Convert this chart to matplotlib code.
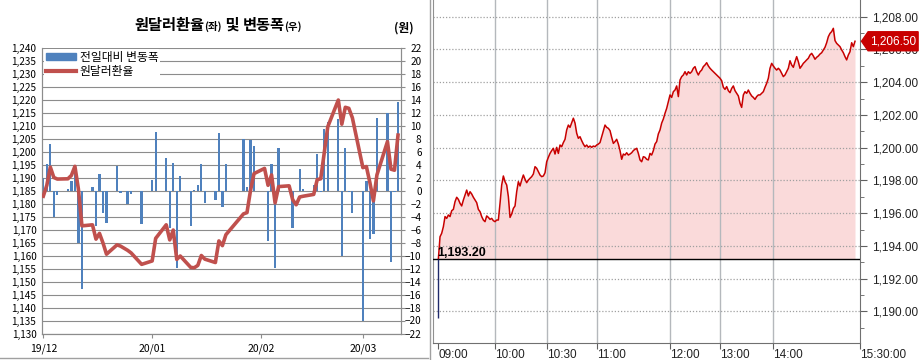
import numpy as np
import pandas as pd
import matplotlib
matplotlib.use("Agg")
import matplotlib.pyplot as plt
import matplotlib.dates as mdates
from matplotlib.patches import Patch, Polygon
from matplotlib.lines import Line2D
from matplotlib.transforms import blended_transform_factory

plt.rcParams['font.family'] = ['Noto Sans CJK KR', 'DejaVu Sans']
narrow = ['Liberation Sans', 'DejaVu Sans']

# ---- left chart: daily rate and change ----
dates = ["2019-12-02", "2019-12-03", "2019-12-04", "2019-12-05", "2019-12-06",
         "2019-12-09", "2019-12-10", "2019-12-11", "2019-12-12", "2019-12-13",
         "2019-12-16", "2019-12-17", "2019-12-18", "2019-12-19", "2019-12-20",
         "2019-12-23", "2019-12-24", "2019-12-26", "2019-12-27", "2019-12-30",
         "2020-01-02", "2020-01-03", "2020-01-06", "2020-01-07", "2020-01-08",
         "2020-01-09", "2020-01-10", "2020-01-13", "2020-01-14", "2020-01-15",
         "2020-01-16", "2020-01-17", "2020-01-20", "2020-01-21", "2020-01-22",
         "2020-01-23", "2020-01-28", "2020-01-29", "2020-01-30", "2020-01-31",
         "2020-02-03", "2020-02-04", "2020-02-05", "2020-02-06", "2020-02-07",
         "2020-02-10", "2020-02-11", "2020-02-12", "2020-02-13", "2020-02-14",
         "2020-02-17", "2020-02-18", "2020-02-19", "2020-02-20", "2020-02-21",
         "2020-02-24", "2020-02-25", "2020-02-26", "2020-02-27", "2020-02-28",
         "2020-03-02", "2020-03-03", "2020-03-04", "2020-03-05", "2020-03-06",
         "2020-03-09", "2020-03-10", "2020-03-11", "2020-03-12"]

change = [1.9, 4.1, 7.2, -4.1, -0.7, 0.2, 1.5, 3.0, -8.0, -15.2,
          0.6, -5.5, 2.5, -3.4, -5.0, 3.8, -0.4, -2.1, -0.5, -5.2,
          1.6, 9.0, 5.0, -5.8, 4.3, -11.9, 2.2, -5.4, 0.1, 0.8,
          4.1, -1.9, -1.4, 8.9, -2.5, 4.1, 8.0, 0.6, 7.8, 6.8,
          0.0, -7.8, 4.1, -11.9, 6.6, 0.0, -5.7, 0.0, 3.3, 0.2,
          0.8, 5.6, -0.2, 9.5, 10.6, 11.0, -10.1, 6.5, -0.3, -3.5,
          -20.0, 1.4, -7.5, -6.7, 11.1, 12.0, -11.0, -0.3, 13.6]

rate = [1182.8, 1187.0, 1194.0, 1190.0, 1189.4, 1189.5, 1190.8, 1194.3, 1185.5, 1171.4,
        1171.8, 1166.3, 1168.5, 1164.8, 1160.5, 1164.1, 1163.6, 1162.0, 1161.0, 1156.6,
        1157.9, 1166.6, 1171.8, 1166.0, 1169.8, 1158.5, 1159.8, 1155.4, 1155.3, 1156.2,
        1160.0, 1158.6, 1157.3, 1165.6, 1163.8, 1168.0, 1176.0, 1176.5, 1185.0, 1191.5,
        1193.5, 1187.0, 1191.0, 1180.2, 1186.5, 1186.8, 1181.5, 1179.5, 1182.5, 1182.8,
        1183.5, 1189.2, 1189.5, 1199.5, 1209.5, 1219.8, 1210.5, 1217.0, 1216.6, 1213.0,
        1193.8, 1194.2, 1188.0, 1181.0, 1191.0, 1203.8, 1193.2, 1192.8, 1206.3]

month_ticks = ["2019-12-02", "2020-01-02", "2020-02-02", "2020-03-02"]

# ---- right chart: intraday ticks (today) ----
prev_close = 1193.20
last_price = 1206.50
open_low = 1189.6
price = [1193.2, 1194.56, 1194.77, 1195.17, 1195.79, 1195.68, 1195.89, 1195.79, 1196.15, 1196.23,
         1196.70, 1196.97, 1196.84, 1196.60, 1196.44, 1196.80, 1197.11, 1197.41, 1197.05, 1197.31,
         1197.17, 1196.97, 1196.80, 1196.64, 1196.23, 1196.09, 1195.79, 1195.58, 1195.48, 1195.83,
         1195.74, 1195.62, 1195.68, 1195.54, 1195.48, 1195.58, 1195.58, 1196.60, 1197.72, 1198.27,
         1197.92, 1197.72, 1197.01, 1195.74, 1195.95, 1196.29, 1196.44, 1197.31, 1197.92, 1197.66,
         1198.02, 1198.33, 1198.07, 1197.86, 1198.02, 1198.13, 1198.23, 1198.39, 1198.84, 1198.74,
         1198.53, 1198.33, 1198.23, 1198.27, 1198.47, 1199.14, 1199.41, 1199.65, 1199.82, 1199.96,
         1199.61, 1200.02, 1199.65, 1200.16, 1200.06, 1200.31, 1200.51, 1201.08, 1201.38, 1201.24,
         1201.53, 1201.80, 1201.50, 1200.88, 1200.57, 1200.67, 1200.43, 1200.22, 1200.06, 1200.16,
         1200.02, 1200.10, 1200.02, 1200.10, 1200.06, 1200.16, 1200.22, 1200.31, 1200.67, 1201.04,
         1201.38, 1201.24, 1201.18, 1201.04, 1200.63, 1200.26, 1200.37, 1200.51, 1200.22, 1199.82,
         1199.29, 1199.61, 1199.55, 1199.69, 1199.55, 1199.61, 1199.69, 1199.82, 1199.90, 1199.96,
         1199.65, 1199.25, 1199.14, 1199.45, 1199.41, 1199.29, 1199.25, 1199.65, 1199.55, 1199.82,
         1200.22, 1200.37, 1200.84, 1201.08, 1201.50, 1201.75, 1202.10, 1202.40, 1202.81, 1203.22,
         1203.07, 1203.42, 1203.52, 1203.77, 1203.12, 1204.13, 1204.34, 1204.44, 1204.64, 1204.44,
         1204.64, 1204.54, 1204.64, 1204.85, 1204.95, 1204.64, 1204.44, 1204.64, 1204.74, 1204.95,
         1205.05, 1205.19, 1204.99, 1204.85, 1204.74, 1204.64, 1204.54, 1204.44, 1204.34, 1204.24,
         1204.09, 1203.69, 1203.56, 1203.73, 1203.48, 1203.36, 1203.62, 1203.77, 1203.48, 1203.32,
         1203.16, 1202.71, 1202.46, 1203.22, 1203.42, 1203.32, 1203.52, 1203.32, 1203.16, 1203.07,
         1202.95, 1203.12, 1203.22, 1203.22, 1203.32, 1203.42, 1203.69, 1203.93, 1204.24, 1204.85,
         1205.15, 1204.99, 1204.85, 1204.74, 1204.85, 1204.74, 1204.54, 1204.34, 1204.44, 1204.64,
         1204.85, 1205.31, 1205.05, 1204.91, 1205.25, 1205.56, 1205.25, 1204.85, 1204.99, 1205.15,
         1205.25, 1205.36, 1205.46, 1205.66, 1205.76, 1205.60, 1205.40, 1205.52, 1205.60, 1205.72,
         1205.80, 1205.97, 1206.13, 1206.41, 1206.78, 1206.98, 1207.09, 1207.29, 1206.54, 1206.37,
         1206.27, 1206.17, 1205.97, 1205.80, 1205.56, 1205.36, 1205.66, 1205.86, 1206.41, 1206.17,
         1206.50]

time_pos = [0, 34, 65, 95, 139, 169, 201, 253]
time_labels = ["09:00", "10:00", "10:30", "11:00", "12:00", "13:00", "14:00", "15:30:00"]

bar_color = "#4f81bd"
line_color = "#c0504d"
grid_color = "#8c8c8c"

fig = plt.figure(figsize=(9.19, 3.6), dpi=100)

# ================= left chart =================
d = pd.to_datetime(dates)
ax = fig.add_axes([42 / 919, 1 - 333.5 / 360, 358.7 / 919, 286 / 360])
axb = ax.twinx()
ax.set_zorder(axb.get_zorder() + 1)
ax.patch.set_visible(False)

axb.bar(d, change, width=0.65, color=bar_color, zorder=2)
axb.set_ylim(-22, 22)
axb.set_yticks(range(-22, 23, 2))
axb.yaxis.grid(True, color=grid_color, lw=0.8)
axb.set_axisbelow(True)
axb.tick_params(axis='y', length=3, color=grid_color, pad=12, labelsize=7.2)
for lb in axb.get_yticklabels():
    lb.set_ha('right')

ax.plot(d, rate, color=line_color, lw=2.6, solid_joinstyle='round', zorder=3)
ax.set_ylim(1130, 1240)
ax.set_yticks(range(1130, 1241, 5))
ax.set_yticklabels([f"{v:,}" for v in range(1130, 1241, 5)])
ax.tick_params(axis='y', length=0, pad=4, labelsize=7.2)

x0 = mdates.date2num(pd.Timestamp("2019-12-02")) - 0.37
x1 = mdates.date2num(pd.Timestamp("2020-03-12")) + 0.77
ax.set_xlim(x0, x1)
ax.set_xticks(pd.to_datetime(month_ticks))
ax.xaxis.set_major_formatter(mdates.DateFormatter('%y/%m'))
ax.tick_params(axis='x', length=3, color=grid_color, pad=4, labelsize=7.5)

for a in (ax, axb):
    a.spines['top'].set_visible(False)
    for s in ('left', 'right', 'bottom'):
        a.spines[s].set_color(grid_color)
        a.spines[s].set_linewidth(0.8)

handles = [Patch(color=bar_color), Line2D([0], [0], color=line_color, lw=3)]
leg = ax.legend(handles, ["전일대비 변동폭", "원달러환율"], loc='upper left',
                fontsize=8.5, frameon=True, facecolor='white', edgecolor='none',
                framealpha=1, borderpad=0.15, borderaxespad=0.15,
                handlelength=2.6, handleheight=0.5, handletextpad=0.3,
                labelspacing=0.05)

# title with smaller (좌)/(우)
r = fig.canvas.get_renderer()
parts = [("원달러환율", 11), ("(좌)", 7.5), (" 및 ", 11), ("변동폭", 11), ("(우)", 7.5)]
texts = [fig.text(0, 0.917, t, fontsize=s, fontweight='bold', va='baseline') for t, s in parts]
widths = [t.get_window_extent(r).width / fig.bbox.width for t in texts]
xp = 218 / 919 - sum(widths) / 2
for t, w in zip(texts, widths):
    t.set_x(xp)
    xp += w

fig.text(404 / 919, 1 - 28 / 360, "(원)", fontsize=8.5, fontweight='bold',
         ha='center', va='center')

# borders between panels
fig.add_artist(Line2D([430 / 919, 430 / 919], [0, 1], color='#a0a0a0', lw=1))
fig.add_artist(Line2D([0, 428 / 919], [1 - 357.5 / 360] * 2, color='#a0a0a0', lw=1))

# ================= right chart =================
ax2 = fig.add_axes([432.7 / 919, 1 - 343.3 / 360, 427.3 / 919, 343.3 / 360])
idx = np.arange(len(price))
ax2.set_xlim(-3.4, 253)
ax2.set_ylim(1188.05, 1209.02)

ax2.fill_between(idx, price, prev_close, color='#fadada', lw=0, zorder=1)
ax2.plot(idx, price, color='#c80000', lw=1.1, zorder=3)
ax2.axhline(prev_close, color='black', lw=1, zorder=4)
ax2.vlines(0, open_low, prev_close, color='#1f2a6b', lw=1, zorder=4)

yt = np.arange(1190, 1209, 2)
ax2.set_yticks(yt)
ax2.set_yticks(np.arange(1189, 1209, 2), minor=True)
ax2.set_yticklabels([f"{v:,.2f}" for v in yt], family=narrow)
ax2.yaxis.tick_right()
ax2.tick_params(axis='y', which='major', length=5, color='#606060', pad=4,
                labelsize=8.5, labelcolor='#222222')
ax2.tick_params(axis='y', which='minor', length=3, color='#606060')
for v in yt:
    ax2.axhline(v, color='#a0a0a0', lw=0.9, ls=(0, (1, 1.5)), zorder=2)

ax2.set_xticks(time_pos)
ax2.set_xticklabels(time_labels, family=narrow)
ax2.tick_params(axis='x', length=4, color='#606060', pad=0, labelsize=8.5,
                labelcolor='#222222')
for lb in ax2.get_xticklabels():
    lb.set_ha('left')
for p in time_pos[1:-1]:
    ax2.axvline(p, color='#b4b8bc', lw=1, zorder=2)

ax2.spines['top'].set_visible(False)
ax2.spines['left'].set_color('#909090')
ax2.spines['right'].set_color('#707070')
ax2.spines['bottom'].set_color('#707070')

ax2.text(-0.8, prev_close + 0.38, f"{prev_close:,.2f}", family=narrow, fontsize=9,
         fontweight='bold', ha='left', va='center', zorder=6)

# price tag on right axis
tr = blended_transform_factory(ax2.transAxes, ax2.transData)
h = 0.58
tag = Polygon([(1.0035, last_price), (1.019, last_price + h), (1.136, last_price + h),
               (1.136, last_price - h), (1.019, last_price - h)], closed=True,
              transform=tr, color='#c80000', clip_on=False, zorder=10)
ax2.add_patch(tag)
ax2.text(1.077, last_price, f"{last_price:,.2f}", transform=tr, color='white',
         family=narrow, fontsize=8.5, ha='center', va='center', zorder=11, clip_on=False)

fig.savefig("out.png", dpi=100)
